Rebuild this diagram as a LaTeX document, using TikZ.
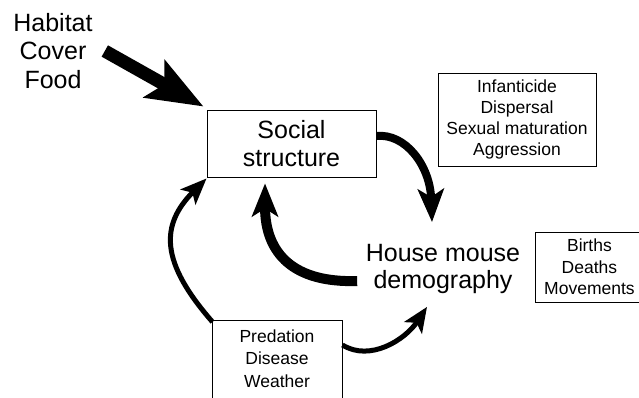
\documentclass[tikz,border=0pt]{standalone}
\usepackage{fontspec}
\setmainfont{Liberation Sans}
\usetikzlibrary{arrows.meta,calc}
\begin{document}
\begin{tikzpicture}[x=1pt,y=-1pt,
  box/.style={draw, line width=0.9pt, inner sep=0pt, align=center},
  bigtxt/.style={font=\fontsize{25}{28}\selectfont, align=center, inner sep=1pt},
  smalltxt/.style={font=\fontsize{17.5}{21.3}\selectfont},
]
\useasboundingbox (0,0) rectangle (639,398);
\node[bigtxt, font=\fontsize{25}{28.5}\selectfont] (hab) at (53,51) {Habitat\\Cover\\Food};
\node[box, bigtxt, inner sep=0pt, minimum width=169pt, minimum height=67pt] (soc) at (291.5,143.5) {Social\\structure};
\node[bigtxt, font=\fontsize{25}{27}\selectfont] (hm) at (443,269) {House mouse\\demography};
\node[box, smalltxt, minimum width=158pt, minimum height=93pt] (beh) at (517,119.5) {Infanticide\\Dispersal\\Sexual maturation\\Aggression};
\node[box, smalltxt, anchor=west, text width=104pt, inner xsep=2pt, minimum height=70pt] (dem) at (535,267) {Births\\Deaths\\Movements};
\node[box, font=\fontsize{17.5}{22.5}\selectfont, anchor=north, text width=130pt, inner ysep=9pt, text depth=65pt] (pred) at (277,320) {Predation\\Disease\\Weather};

\draw[line width=13pt, -{Stealth[length=56pt,width=42pt,inset=11pt]}] ([xshift=11pt]hab.east) -- ([shift={(-3,-3)}]soc.north west);
\draw[line width=8pt, -{Stealth[length=33pt,width=26pt,inset=8pt]}] ([shift={(0,-7.5)}]soc.east) .. controls (405,133) and (430,165) .. ([shift={(-11,-21)}]hm.north);
\draw[line width=10pt, -{Stealth[length=33pt,width=26pt,inset=8pt]}] ([shift={(-7.5,12)}]hm.west) .. controls (295,283) and (265,255) .. ([shift={(-26.5,6)}]soc.south);
\draw[line width=5pt, -{Stealth[length=26pt,width=21pt,inset=6pt]}] ([shift={(1,2)}]pred.north west) .. controls (160,262) and (160,225) .. ([shift={(0,1)}]soc.south west);
\draw[line width=5pt, -{Stealth[length=25pt,width=21pt,inset=6pt]}] ([shift={(0,25)}]pred.north east) .. controls (370,362) and (405,340) .. ([shift={(-16,12)}]hm.south);
\end{tikzpicture}
\end{document}
